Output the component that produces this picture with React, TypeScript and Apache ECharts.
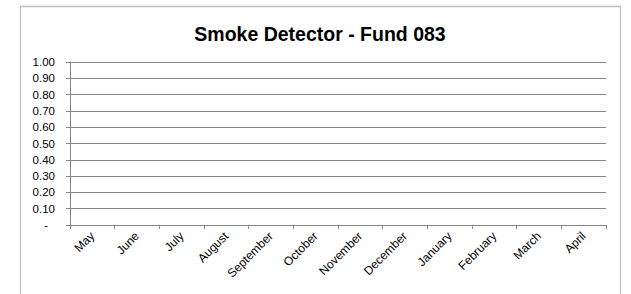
import React, { useEffect, useRef } from "react";
import * as echarts from "echarts";

const title = "Smoke Detector - Fund 083";
const months = [
  "May", "June", "July", "August", "September", "October",
  "November", "December", "January", "February", "March", "April",
];
const values: (number | null)[] = [null, null, null, null, null, null, null, null, null, null, null, null];
const yMin = 0;
const yMax = 1;
const yStep = 0.1;

export default function App() {
  const ref = useRef<HTMLDivElement>(null);
  useEffect(() => {
    document.body.style.margin = "0";
    const chart = echarts.init(ref.current!, null, { renderer: "svg" });
    const font = "'Liberation Sans', Arial, sans-serif";
    chart.setOption({
      animation: false,
      backgroundColor: "#ffffff",
      graphic: [
        {
          type: "rect",
          shape: { x: 20.5, y: 6.5, width: 600, height: 300 },
          style: { fill: "none", stroke: "#bfbfbf", lineWidth: 1.3 },
          silent: true,
        },
        {
          type: "text",
          x: 320,
          y: 34,
          style: {
            text: title,
            fill: "#000000",
            font: `bold 19.5px ${font}`,
            textAlign: "center",
            textVerticalAlign: "middle",
          },
        },
      ],
      grid: { left: 70, right: 25, top: 62, bottom: 69, outerBoundsMode: "none", containLabel: false },
      xAxis: {
        type: "category",
        data: months,
        boundaryGap: true,
        axisLine: { show: true, lineStyle: { color: "#868686", width: 1 } },
        axisTick: { show: true, length: 4, alignWithLabel: false, lineStyle: { color: "#868686" } },
        axisLabel: {
          rotate: 45,
          interval: 0,
          margin: 9,
          color: "#000000",
          fontFamily: font,
          fontSize: 12,
        },
        splitLine: { show: false },
      },
      yAxis: {
        type: "value",
        min: yMin,
        max: yMax,
        interval: yStep,
        axisLine: { show: true, lineStyle: { color: "#868686", width: 1 } },
        axisTick: { show: true, length: 4, lineStyle: { color: "#868686" } },
        axisLabel: {
          margin: 15,
          color: "#000000",
          fontFamily: font,
          fontSize: 11.5,
          formatter: (v: number) => (Math.abs(v) < 1e-9 ? "{d|-}" : v.toFixed(2)),
          rich: { d: { padding: [0, 7, 0, 0], fontFamily: font, fontSize: 11.5, color: "#000000" } },
        },
        splitLine: { show: true, lineStyle: { color: "#868686", width: 1 } },
      },
      series: [
        {
          type: "line",
          data: values,
          symbol: "none",
          lineStyle: { color: "#4f81bd", width: 2 },
        },
      ],
    });
    return () => chart.dispose();
  }, []);
  return <div ref={ref} style={{ width: 631, height: 294 }} />;
}
